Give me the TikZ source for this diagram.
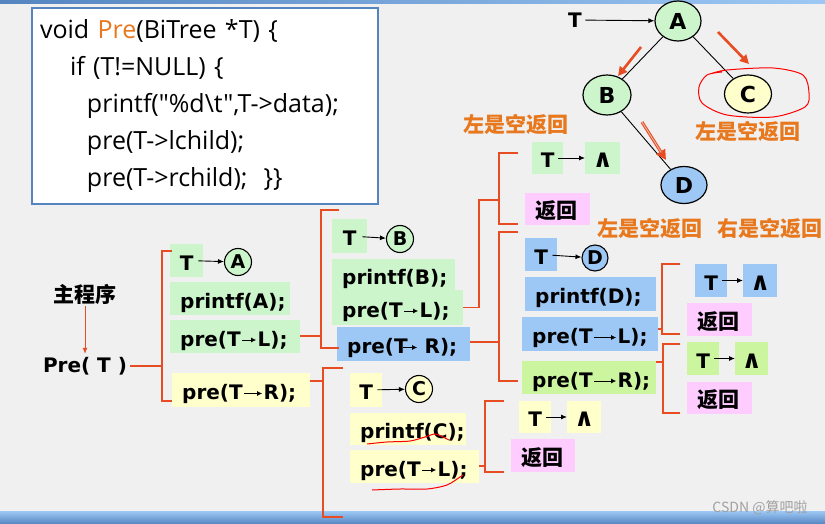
\documentclass[tikz,border=0pt]{standalone}
\usepackage{fontspec}
\usetikzlibrary{arrows.meta,shapes.geometric}
\setmainfont{DejaVu Sans}
\newfontfamily\codefont{Open Sans}
\newfontfamily\cjk{Noto Sans CJK SC}
\definecolor{bgc}{HTML}{F0F0F0}
\definecolor{grn}{HTML}{CCF5CC}
\definecolor{yel}{HTML}{FFFFCC}
\definecolor{blu}{HTML}{9DC8F5}
\definecolor{lime}{HTML}{CCF5A0}
\definecolor{pnk}{HTML}{FFCCFF}
\definecolor{org}{HTML}{E8781E}
\definecolor{redc}{HTML}{E84C22}
\definecolor{cblue}{HTML}{5585C0}
\definecolor{wmk}{HTML}{A0A0A0}
\newcommand\tto[1][14pt]{\kern1pt\tikz[baseline=0pt]\draw[black,line width=.9pt,-{Latex[length=5pt,width=5pt]}] (0pt,6pt)--(#1,6pt);\kern1pt}
\begin{document}
\hyphenpenalty=10000
\begin{tikzpicture}[x=1pt,y=-1pt,
	every node/.style={font=\bfseries\fontsize{20}{24}\selectfont},
	cell/.style={anchor=west,inner xsep=10pt,inner ysep=0pt,text height=20pt,text depth=1pt},
	sq/.style={cell,inner xsep=0pt},
	nil/.style={sq,font=\bfseries\fontsize{25}{26}\selectfont},
	zh/.style={font=\cjk\bfseries\fontsize{21}{24}\selectfont},
	tip/.style={zh,text=org,inner sep=0pt},
	tn/.style={ellipse,draw,line width=1.2pt,inner sep=0pt,font=\bfseries\fontsize{22}{24}\selectfont},
	sc/.style={circle,draw,line width=1.1pt,inner sep=0pt,minimum size=27pt,font=\bfseries\fontsize{19}{20}\selectfont},
	arr/.style={line width=.9pt,-{Latex[length=6pt,width=5pt]}},
	redl/.style={draw=redc,line width=1.3pt},
	hand/.style={draw=red,line width=1pt,smooth}]
	
	\useasboundingbox (0,0) rectangle (825,524);
	\fill[bgc] (0,0) rectangle (825,524);
	\shade[left color=cblue,right color=blu] (0,0) rectangle (825,4);
	\shade[top color=blu,bottom color=cblue] (0,511) rectangle (825,524);
	\node[font=\cjk\fontsize{14}{16}\selectfont,text=wmk] (wm) at (760,508) {CSDN @算吧啦};
	
	\node[draw=cblue,line width=1.5pt,fill=white,minimum width=346pt,minimum height=196pt,text width=330pt,inner xsep=8pt,align=left,
		font=\codefont\fontsize{25}{37}\selectfont] (src) at (205,106)
		{void {\color{org}Pre}(BiTree *T) \{\\
		\hspace*{30pt}if (T!=NULL) \{\\
		\hspace*{47pt}printf("\%d\textbackslash t",T->data);\\
		\hspace*{47pt}pre(T->lchild);\\
		\hspace*{47pt}pre(T->rchild);\hspace{16pt}\}\}};
	
	\node (tT) at (575,20) {T};
	\node[tn,fill=grn,minimum width=46pt,minimum height=40pt] (A) at (678,21) {A};
	\node[tn,fill=grn,minimum width=48pt,minimum height=40pt] (B) at (607,95) {B};
	\node[tn,fill=yel,minimum width=47pt,minimum height=38pt] (C) at (748,94) {C};
	\node[tn,fill=blu,minimum width=46pt,minimum height=37pt] (D) at (684,185) {D};
	\draw[line width=.9pt] (A)--(B) (A)--(C) (B)--(D);
	\draw[arr] (tT)--(A);
	\draw[redc,line width=2.6pt,-{Triangle[length=9pt,width=9pt]}] (641,47)--(618,76);
	\draw[redc,line width=2.6pt,-{Triangle[length=9pt,width=9pt]}] (718,32)--(749,64);
	\draw[redc,line width=3pt,-{Triangle[length=10pt,width=10pt]}] (642,122)--(666,160);
	\draw[draw=bgc!60!redc,line width=1pt,shorten >=9pt] (642,122)--(666,160);
	\draw[hand] plot coordinates {(710,74) (727,70) (773,68) (803,75) (809,93) (805,107) (773,117) (727,115) (702,103) (699,87) (707,75) (722,72)};
	
	\node[tip] (l1) at (516,124) {左是空返回};
	\node[tip] (l2) at (748,131) {左是空返回};
	\node[tip] (l3) at (650,228) {左是空返回};
	\node[tip] (l4) at (770,228) {右是空返回};
	
	\node[zh,inner sep=2pt] (main) at (85,294) {主程序};
	\node[inner sep=3pt] (call) at (85,366) {Pre( T )};
	\draw[redl,line width=1pt,-{Latex[length=6pt,width=5pt]}] (main)--(call);
	
	\node[sq,fill=grn,minimum width=33pt,minimum height=33pt] (tA) at (170,260.5) {T};
	\node[cell,fill=grn,text width=100pt,minimum height=33pt] (pA) at (170,298.5) {printf(A);};
	\node[cell,fill=grn,text width=110pt,minimum height=33pt] (lA) at (170,336.5) {pre(T\tto L);};
	\node[cell,fill=yel,text width=118pt,minimum height=34pt] (rA) at (172,390) {pre(T\tto[18pt]R);};
	
	\node[sq,fill=grn,minimum width=35pt,minimum height=34pt] (tB) at (332,236) {T};
	\node[cell,fill=grn,text width=103pt,minimum height=31pt] (pB) at (332,274.5) {printf(B);};
	\node[cell,fill=grn,text width=111pt,minimum height=35pt] (lB) at (332,307.5) {pre(T\tto L);};
	\node[cell,fill=blu,text width=113pt,minimum height=34pt] (rB) at (337,344) {pre(T\kern-6pt\tto\kern6pt R);};
	
	\node[sq,fill=yel,minimum width=32pt,minimum height=34pt] (tC) at (350,390) {T};
	\node[cell,fill=yel,text width=96pt,minimum height=32pt] (pC) at (350,429) {printf(C);};
	\node[cell,fill=yel,text width=109pt,minimum height=33pt] (lC) at (350,466.5) {pre(T\tto L);};
	
	\node[sq,fill=grn,minimum width=31pt,minimum height=32pt] (tX1) at (532,158) {T};
	\node[nil,fill=grn,minimum width=35pt,minimum height=32pt] (nX1) at (585,158) {∧};
	\node[cell,zh,fill=pnk,text width=45pt,minimum height=32pt] (rX1) at (525,209) {返回};
	
	\node[sq,fill=blu,minimum width=32pt,minimum height=33pt] (tD) at (525,254.5) {T};
	\node[cell,fill=blu,text width=111pt,minimum height=34pt] (pD) at (525,294) {printf(D);};
	\node[cell,fill=blu,text width=116pt,minimum height=34pt] (lD) at (522,334) {pre(T\tto[22pt]L);};
	\node[cell,fill=lime,text width=114pt,minimum height=33pt] (rD) at (522,377.5) {pre(T\tto[22pt]R);};
	
	\node[sq,fill=blu,minimum width=32pt,minimum height=33pt] (tX2) at (695,280.5) {T};
	\node[nil,fill=blu,minimum width=34pt,minimum height=33pt] (nX2) at (743,280.5) {∧};
	\node[cell,zh,fill=pnk,text width=45pt,minimum height=33pt] (rX2) at (687,319.5) {返回};
	\node[sq,fill=lime,minimum width=32pt,minimum height=33pt] (tX3) at (687,358.5) {T};
	\node[nil,fill=lime,minimum width=33pt,minimum height=33pt] (nX3) at (735,358.5) {∧};
	\node[cell,zh,fill=pnk,text width=45pt,minimum height=32pt] (rX3) at (687,398) {返回};
	
	\node[sq,fill=yel,minimum width=32pt,minimum height=32pt] (tX4) at (519,417) {T};
	\node[nil,fill=yel,minimum width=34pt,minimum height=32pt] (nX4) at (567,417) {∧};
	\node[cell,zh,fill=pnk,text width=44pt,minimum height=33pt] (rX4) at (511,455.5) {返回};
	
	\node[sc,fill=grn] (cA) at (238,262) {A};
	\node[sc,fill=grn] (cB) at (400,239) {B};
	\node[sc,fill=yel] (cC) at (419,389) {C};
	\node[sc,fill=blu,minimum size=26pt] (cD) at (595,258) {D};
	\foreach \t/\c in {tA/cA,tB/cB,tC/cC,tD/cD,tX1/nX1,tX2/nX2,tX3/nX3,tX4/nX4}
		\draw[arr,shorten <=-5pt] (\t)--(\c);
	
	\foreach \x/\a/\b/\e in {162/251/401/172,321/210/348/339,323/368/517/343,499/153/224/518,499/232/381/518,485/401/472/504,662/264/334/680,663/344/413/680}
		\draw[redl] (\e,\a)--(\x,\a)--(\x,\b)--(\e,\b);
	\coordinate (k0) at (162,366);
	\coordinate (k1) at (321,336);
	\coordinate (k2) at (323,381);
	\coordinate (k3) at (499,200);
	\coordinate (k4) at (499,342);
	\coordinate (k5) at (485,466);
	\coordinate (k6) at (662,329);
	\coordinate (k7) at (663,362);
	\foreach \n/\k in {call/k0,lA/k1,rA/k2,rB/k4,lC/k5,lD/k6,rD/k7}
		\draw[redl] (\n.east |- \k)--(\k);
	\draw[redl] (lB.east) -| (479,200)--(k3);
	
	\draw[hand] plot coordinates {(367,444) (387,442) (410,441) (425,437) (435,434) (443,437) (449,440)};
	\draw[hand] plot coordinates {(372,490) (400,489) (427,489) (447,485) (460,477) (463,475)};
	
\end{tikzpicture}
\end{document}
